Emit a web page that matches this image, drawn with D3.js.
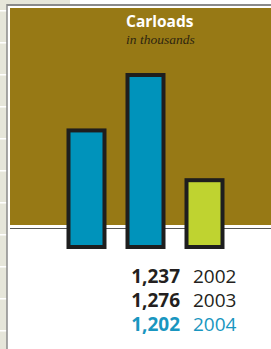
<html>
<head>
<script src="https://d3js.org/d3.v7.min.js"></script>
<style>
body { margin: 0; background: #fff; }
</style>
</head>
<body>
<script>
var w = 271, h = 349;
var years = ["2002", "2003", "2004"];
var values = [1237, 1276, 1202];
var labels = ["1,237", "1,276", "1,202"];
var fills = ["#0093bb", "#0093bb", "#bfd330"];
var textColors = ["#231f20", "#231f20", "#1996c0"];

var svg = d3.select("body").append("svg")
	.attr("width", w)
	.attr("height", h);

// page decoration: left strip with white marks
svg.append("rect").attr("x", 0).attr("y", 0).attr("width", 7).attr("height", h).attr("fill", "#e6e6da");
svg.append("rect").attr("x", 0).attr("y", 0).attr("width", 70).attr("height", 4).attr("fill", "#e6e6da");
for (var yy = 10; yy < h; yy += 32) {
	svg.append("rect").attr("x", 0).attr("y", yy).attr("width", 7).attr("height", 1.5).attr("fill", "#fff");
}
svg.append("line").attr("x1", 7).attr("x2", w).attr("y1", 5).attr("y2", 5)
	.attr("stroke", "#8a8a8a").attr("stroke-width", 2);
svg.append("line").attr("x1", 7).attr("x2", 7).attr("y1", 4).attr("y2", h)
	.attr("stroke", "#8a8a8a").attr("stroke-width", 1.5);

// gold panel
svg.append("rect").attr("x", 10).attr("y", 8).attr("width", w - 10).attr("height", 217).attr("fill", "#977915");
svg.append("line").attr("x1", 10).attr("x2", w).attr("y1", 228.5).attr("y2", 228.5)
	.attr("stroke", "#555").attr("stroke-width", 1.2);

svg.append("text").text("Carloads")
	.attr("x", 126).attr("y", 27)
	.attr("font-family", "'Open Sans', sans-serif").attr("font-weight", "bold")
	.attr("font-size", 15.5).attr("fill", "#fff");
svg.append("text").text("in thousands")
	.attr("x", 126).attr("y", 44)
	.attr("font-family", "'Liberation Serif', serif").attr("font-style", "italic")
	.attr("font-size", 13.5).attr("fill", "#2e2510");

var x = d3.scaleBand().domain(years).range([68.5, 222.5]).paddingInner(0.39).paddingOuter(0);
var y = d3.scaleLinear().domain([1155, 1276]).range([247, 75]);

svg.selectAll(".bar").data(values).enter().append("rect")
	.attr("class", "bar")
	.attr("x", function(d, i) { return x(years[i]); })
	.attr("y", function(d) { return y(d); })
	.attr("width", x.bandwidth())
	.attr("height", function(d) { return y.range()[0] - y(d); })
	.attr("fill", function(d, i) { return fills[i]; })
	.attr("stroke", "#1e1e1e")
	.attr("stroke-width", 4);

var rowY = d3.scalePoint().domain(years).range([283, 331]);

svg.selectAll(".val").data(labels).enter().append("text")
	.attr("x", 180)
	.attr("y", function(d, i) { return rowY(years[i]); })
	.attr("text-anchor", "end")
	.attr("font-family", "'Open Sans', sans-serif").attr("font-weight", "bold")
	.attr("font-size", 19)
	.attr("fill", function(d, i) { return textColors[i]; })
	.text(function(d) { return d; });

svg.selectAll(".yr").data(years).enter().append("text")
	.attr("x", 193)
	.attr("y", function(d) { return rowY(d); })
	.attr("font-family", "'Open Sans', sans-serif")
	.attr("font-size", 19)
	.attr("fill", function(d, i) { return textColors[i]; })
	.text(function(d) { return d; });
</script>
</body>
</html>
